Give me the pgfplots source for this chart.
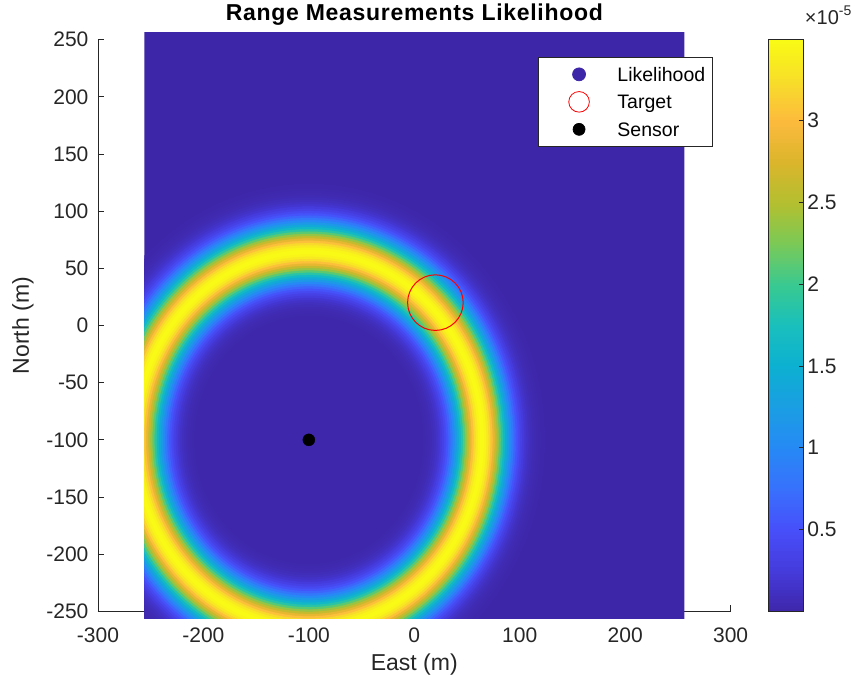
\documentclass[border=0pt]{standalone}
\usepackage{pgfplots}
\pgfplotsset{compat=1.18}
\usepackage{pgfplotstable}
\usepackage{fontspec}
\setmainfont{Liberation Sans}

\definecolor{axgray}{rgb}{0.15,0.15,0.15}
\definecolor{parulalow}{rgb}{0.2422,0.1504,0.6603}

\pgfkeys{/pgf/number format/assume math mode=true}

\pgfplotsset{
  colormap={parula}{
    rgb(0pt)=(0.2422,0.1504,0.6603)
    rgb(70pt)=(0.2700,0.2300,0.8600)
    rgb(143pt)=(0.2800,0.3100,0.9800)
    rgb(214pt)=(0.2200,0.4400,0.9900)
    rgb(286pt)=(0.1500,0.5400,0.9600)
    rgb(357pt)=(0.1000,0.6200,0.8900)
    rgb(429pt)=(0.0500,0.6900,0.8200)
    rgb(500pt)=(0.1000,0.7500,0.7400)
    rgb(571pt)=(0.2200,0.7900,0.5700)
    rgb(643pt)=(0.4800,0.7900,0.3400)
    rgb(714pt)=(0.7000,0.7500,0.1900)
    rgb(786pt)=(0.8600,0.7100,0.1700)
    rgb(857pt)=(0.9900,0.7300,0.2400)
    rgb(929pt)=(0.9700,0.8700,0.1600)
    rgb(1000pt)=(0.9769,0.9839,0.0805)
  }
}

\newcommand{\tickfont}{\fontsize{21}{25}\selectfont}
\newcommand{\labelfont}{\fontsize{23}{27}\selectfont}

% Range likelihood around the sensor at (-100,-100):
% each row is a filled disk of radius r (m) with likelihood L (x 1e-5),
% listed from the outermost to the innermost.
\pgfplotstableread{
x y r L
-100 -100 224 0.0085
-100 -100 222 0.0127
-100 -100 220 0.0187
-100 -100 218 0.0271
-100 -100 216 0.0388
-100 -100 214 0.0549
-100 -100 212 0.0765
-100 -100 210 0.105
-100 -100 208 0.143
-100 -100 206 0.191
-100 -100 204 0.252
-100 -100 202 0.327
-100 -100 200 0.420
-100 -100 198 0.531
-100 -100 196 0.663
-100 -100 194 0.816
-100 -100 192 0.990
-100 -100 190 1.185
-100 -100 188 1.399
-100 -100 186 1.630
-100 -100 184 1.872
-100 -100 182 2.120
-100 -100 180 2.368
-100 -100 178 2.609
-100 -100 176 2.835
-100 -100 174 3.038
-100 -100 172 3.211
-100 -100 170 3.347
-100 -100 168 3.441
-100 -100 166 3.489
-100 -100 164 3.489
-100 -100 162 3.441
-100 -100 160 3.347
-100 -100 158 3.211
-100 -100 156 3.038
-100 -100 154 2.835
-100 -100 152 2.609
-100 -100 150 2.368
-100 -100 148 2.120
-100 -100 146 1.872
-100 -100 144 1.630
-100 -100 142 1.399
-100 -100 140 1.185
-100 -100 138 0.990
-100 -100 136 0.816
-100 -100 134 0.663
-100 -100 132 0.531
-100 -100 130 0.420
-100 -100 128 0.327
-100 -100 126 0.252
-100 -100 124 0.191
-100 -100 122 0.143
-100 -100 120 0.105
-100 -100 118 0.0765
-100 -100 116 0.0549
-100 -100 114 0.0388
-100 -100 112 0.0271
-100 -100 110 0.0187
-100 -100 108 0.0127
-100 -100 106 0.0085
}\ringtable

\begin{document}
\begin{tikzpicture}
\useasboundingbox (-414.3pt,-357.5pt) rectangle (444.7pt,325.5pt);

% axes frame, ticks, labels, title and colour bar
\begin{axis}[
  anchor=origin, at={(0pt,0pt)},
  x=1.0545pt, y=1.1434pt,
  xmin=-300, xmax=300, ymin=-250, ymax=250,
  enlargelimits=false,
  axis x line=bottom, axis y line=left,
  axis line style={-, draw=axgray, line width=0.7pt},
  tick align=inside, major tick length=6pt,
  tick style={draw=axgray, line width=0.7pt},
  xtick={-300,-200,...,300}, ytick={-250,-200,...,250},
  tick label style={font=\tickfont, text=axgray},
  xticklabel style={yshift=-13pt},
  yticklabel style={xshift=-6pt},
  xlabel={East (m)}, ylabel={North (m)},
  label style={font=\labelfont, text=axgray},
  xlabel style={at={(axis description cs:0.5,-0.1037)}, anchor=base},
  ylabel style={at={(axis description cs:-0.109,0.5)}, anchor=base},
  title={\addfontfeature{LetterSpace=3}Range Measurements Likelihood},
  title style={at={(axis description cs:0.5,1.0233)}, anchor=base,
    font=\bfseries\fontsize{23}{27}\selectfont, text=black},
  colormap name=parula,
  point meta min=0, point meta max=3.495,
  colorbar sampled,
  colorbar style={
    samples=180,
    at={(parent axis.north east)}, anchor=north west, xshift=29pt,
    width=35.6pt,
    ytick={0.5,1,1.5,2,2.5,3},
    ytick pos=right, yticklabel pos=right,
    tick align=inside, major tick length=5pt,
    tick style={draw=axgray, line width=0.7pt},
    axis line style={draw=axgray, line width=0.7pt},
    yticklabel style={font=\tickfont, text=axgray},
    title={×10\raisebox{0.45em}{\fontsize{14}{16}\selectfont -5}},
    title style={at={(axis description cs:1,1)}, anchor=base west,
      yshift=9pt, xshift=0pt, inner xsep=1pt, font=\fontsize{20}{24}\selectfont, text=axgray},
  },
]
\end{axis}

% likelihood field, target, sensor and legend
\begin{axis}[
  anchor=origin, at={(0pt,0pt)},
  x=1.0545pt, y=1.1434pt,
  xmin=-256, xmax=256, ymin=-256, ymax=256,
  enlargelimits=false,
  hide axis,
  clip marker paths=true,
  colormap name=parula,
  point meta min=0, point meta max=3.495,
  legend cell align=left,
  legend image code/.code={
    \path (-33pt,0pt) (38pt,0pt);
    \draw[#1] plot coordinates {(0pt,0pt)};
  },
  legend style={
    at={(axis description cs:0.7297,0.9582)}, anchor=north west,
    draw=axgray, line width=0.7pt, fill=white,
    inner xsep=7pt, inner ysep=3pt, row sep=0pt,
    font=\fontsize{19.5}{23}\selectfont,
    nodes={inner xsep=0pt, inner ysep=4.25pt, text height=16.5pt, text depth=2.5pt},
  },
]
% background of the likelihood grid (clipped to the grid extent)
\addplot[fill=parulalow, draw=none, forget plot]
  coordinates {(-270,-270) (270,-270) (270,270) (-270,270)} -- cycle;

\addplot[scatter, only marks, mark=*, forget plot,
  point meta=explicit,
  scatter/use mapped color={draw=mapped color, fill=mapped color},
  visualization depends on={\thisrow{r} \as \rr},
  scatter/@pre marker code/.append style={
    /tikz/mark size=\rr, /tikz/xscale=1.0545, /tikz/yscale=1.1434},
] table[x=x, y=y, meta=L] \ringtable;

\addplot[only marks, mark=o, mark size=27.8pt, draw=red, line width=1pt, forget plot]
  coordinates {(20,20)};
\addplot[only marks, mark=*, mark size=6pt, draw=black, fill=black, forget plot]
  coordinates {(-100,-100)};

\addlegendimage{only marks, mark=*, mark size=6.5pt, draw=parulalow, fill=parulalow}
\addlegendentry{Likelihood}
\addlegendimage{only marks, mark=o, mark size=10.3pt, draw=red, line width=0.8pt}
\addlegendentry{Target}
\addlegendimage{only marks, mark=*, mark size=6pt, draw=black, fill=black}
\addlegendentry{Sensor}
\end{axis}
\end{tikzpicture}
\end{document}
